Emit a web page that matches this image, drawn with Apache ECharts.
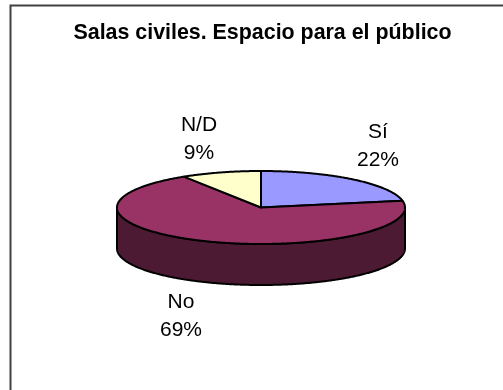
<!DOCTYPE html>
<html>
<head>
<meta charset="utf-8">
<style>html,body{margin:0;padding:0;background:#fff}#chart{width:503px;height:390px}</style>
<script src="https://cdn.jsdelivr.net/npm/echarts@6/dist/echarts.min.js"></script>
</head>
<body>
<div id="chart"></div>
<script>
// Three-part survey share, drawn as a tilted pie with a visible rim.
const categories = ['Sí', 'No', 'N/D'];
const shares = [22, 69, 9];
const faceColors = ['#9999FF', '#993366', '#FFFFCC'];
const rimColors = ['#4D4D80', '#4D1A33', '#808066'];
const chartTitle = 'Salas civiles. Espacio para el público';

// Tilted disc geometry, in pixels.
const disc = { cx: 261, cy: 207.5, rx: 144, ry: 36.5, depth: 41 };
// Label centre relative to the disc centre, one per category.
const labelOffsets = [[117, -61.5], [-80, 108.5], [-62, -68]];

const total = shares.reduce((a, b) => a + b, 0);
const starts = [];
shares.reduce((acc, v, i) => { starts[i] = acc; return acc + v; }, 0);

// Angle is measured clockwise from the top of the disc, in degrees.
function rimPoint(deg, dy) {
  const t = deg * Math.PI / 180;
  return [disc.cx + disc.rx * Math.sin(t), disc.cy + dy - disc.ry * Math.cos(t)];
}
function arc(from, to, dy) {
  const pts = [];
  const n = Math.max(2, Math.ceil((to - from) * 2));
  for (let i = 0; i <= n; i++) pts.push(rimPoint(from + (to - from) * i / n, dy));
  return pts;
}
const strokeStyle = { stroke: '#000', lineWidth: 2, lineJoin: 'round' };

function renderSlice(params, api) {
  const i = params.dataIndex;
  const a0 = api.value(1) / total * 360;
  const a1 = a0 + api.value(0) / total * 360;
  const children = [];

  // The rim only shows along the front half of the disc.
  const wallFrom = Math.max(a0, 90);
  const wallTo = Math.min(a1, 270);
  if (wallTo > wallFrom) {
    children.push({
      type: 'polygon',
      z2: 1,
      shape: { points: arc(wallFrom, wallTo, 0).concat(arc(wallFrom, wallTo, disc.depth).reverse()) },
      style: Object.assign({ fill: rimColors[i] }, strokeStyle)
    });
  }
  children.push({
    type: 'polygon',
    z2: 2,
    shape: { points: [[disc.cx, disc.cy]].concat(arc(a0, a1, 0)) },
    style: Object.assign({ fill: faceColors[i] }, strokeStyle)
  });
  children.push({
    type: 'text',
    z2: 3,
    style: {
      x: disc.cx + labelOffsets[i][0],
      y: disc.cy + labelOffsets[i][1],
      text: categories[i] + '\n' + api.value(0) + '%',
      align: 'center',
      verticalAlign: 'middle',
      fill: '#000',
      fontFamily: '"Liberation Sans", Arial, sans-serif',
      fontSize: 21,
      lineHeight: 28
    }
  });
  return { type: 'group', children };
}

const chart = echarts.init(document.getElementById('chart'), null, { renderer: 'canvas' });
chart.setOption({
  animation: false,
  backgroundColor: '#fff',
  title: {
    text: chartTitle,
    left: 257.5,
    top: 18,
    textAlign: 'center',
    textStyle: {
      fontFamily: '"Liberation Sans", Arial, sans-serif',
      fontSize: 21.4,
      fontWeight: 'bold',
      color: '#000'
    }
  },
  graphic: [{
    type: 'rect',
    shape: { x: 10.5, y: 5.5, width: 600, height: 500 },
    style: { fill: 'none', stroke: '#404040', lineWidth: 2 },
    silent: true
  }],
  series: [{
    type: 'custom',
    coordinateSystem: 'none',
    renderItem: renderSlice,
    data: shares.map((v, i) => [v, starts[i]]),
    silent: true
  }]
});
</script>
</body>
</html>
